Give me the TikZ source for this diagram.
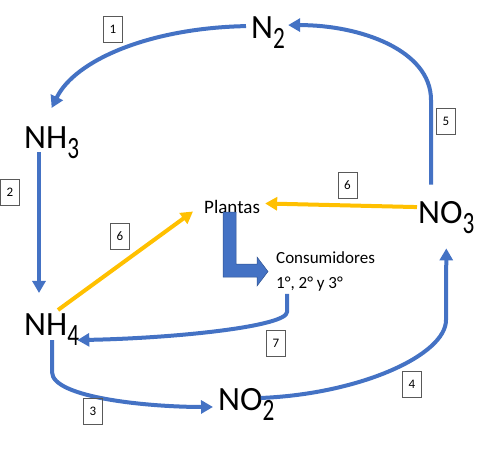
\documentclass[tikz,border=0pt]{standalone}
\usepackage{fontspec}
\setmainfont{Carlito}
\usetikzlibrary{arrows.meta}
\definecolor{azul}{HTML}{4472C4}
\definecolor{azuloscuro}{HTML}{2F528F}
\definecolor{amarillo}{HTML}{FFC000}
\newcommand{\chsub}[1]{\raisebox{-10pt}{\scalebox{0.75}[1]{\fontsize{31}{31}\selectfont #1}}}

\begin{document}
\begin{tikzpicture}[x=1pt, y=-1pt,
    especie/.style={anchor=base west, inner sep=0pt, font=\fontsize{34}{34}\selectfont},
    numero/.style={draw=black!65, line width=0.7pt, minimum width=19pt, minimum height=26pt,
        inner sep=0pt, font=\fontsize{13}{13}\selectfont},
    flecha/.style={azul, line width=4pt, -{Triangle[length=12pt,width=13pt]}},
    amarilla/.style={amarillo, line width=4pt, -{Triangle[length=12pt,width=13pt]}}]
        \useasboundingbox (0,0) rectangle (477,451);
        % compuestos
        \node[especie] (n2) at (251,38) {N\chsub{2}};
        \node[especie] (nh3) at (24,148) {NH\chsub{3}};
        \node[especie] (nh4) at (24,335) {NH\chsub{4}};
        \node[especie] (no2) at (218,410) {NO\chsub{2}};
        \node[especie] (no3) at (418,223) {NO\chsub{3}};
        \node[anchor=base west, inner sep=0pt, font=\fontsize{19}{19}\selectfont] (plantas) at (204,213) {Plantas};
        \node[anchor=north west, inner sep=0pt, align=left, font=\fontsize{17}{25}\selectfont] (consum) at (276,251) {Consumidores\\1°, 2° y 3°};
        % flecha de bloque
        \filldraw[fill=azul, draw=azuloscuro, line width=0.5pt] (223,212) -- (236,212) -- (236,264) -- (257,264) -- (257,257)
            -- (268,271.5) -- (257,286) -- (257,277) -- (223,277) -- cycle;
        % ciclo
        \draw[flecha] ([xshift=-5pt, yshift=6pt]n2.west) .. controls (150,28) and (75,60) .. ([yshift=18pt]nh3.north);
        \draw[flecha] ([xshift=15pt, yshift=6pt]nh3.south west) -- ([xshift=15pt, yshift=20pt]nh4.north west);
        \draw[flecha] ([xshift=28pt, yshift=5pt]nh4.south west) -- (52,372) .. controls (52,398) and (150,407) .. ([xshift=-5pt, yshift=-3pt]no2.west);
        \draw[flecha] ([xshift=-14pt, yshift=6pt]no2.east) .. controls (360,394) and (446,355) .. (446,320) -- ([yshift=-15pt]no3.south);
        \draw[flecha] ([xshift=13pt, yshift=16pt]no3.north west) -- (431,100) .. controls (431,50) and (360,25) .. ([xshift=3pt, yshift=7pt]n2.east);
        \draw[flecha] ([xshift=11pt, yshift=-3pt]consum.south west) -- (287,312) .. controls (287,326) and (180,338) .. ([xshift=-2pt, yshift=-11pt]nh4.east);
        \draw[amarilla] ([xshift=34pt, yshift=3pt]nh4.north west) -- ([xshift=-11pt, yshift=-5pt]plantas.west);
        \draw[amarilla] ([xshift=-1pt, yshift=10pt]no3.west) -- ([xshift=5pt, yshift=3pt]plantas.east);
        % etiquetas
        \node[numero] (e1) at (113,29) {1};
        \node[numero] (e2) at (10,192.5) {2};
        \node[numero] (e3) at (93,411.5) {3};
        \node[numero] (e4) at (412,384.5) {4};
        \node[numero] (e5) at (446,121) {5};
        \node[numero] (e6a) at (120,236) {6};
        \node[numero] (e6b) at (347.5,185) {6};
        \node[numero] (e7) at (276,343.5) {7};
    \end{tikzpicture}
\end{document}
